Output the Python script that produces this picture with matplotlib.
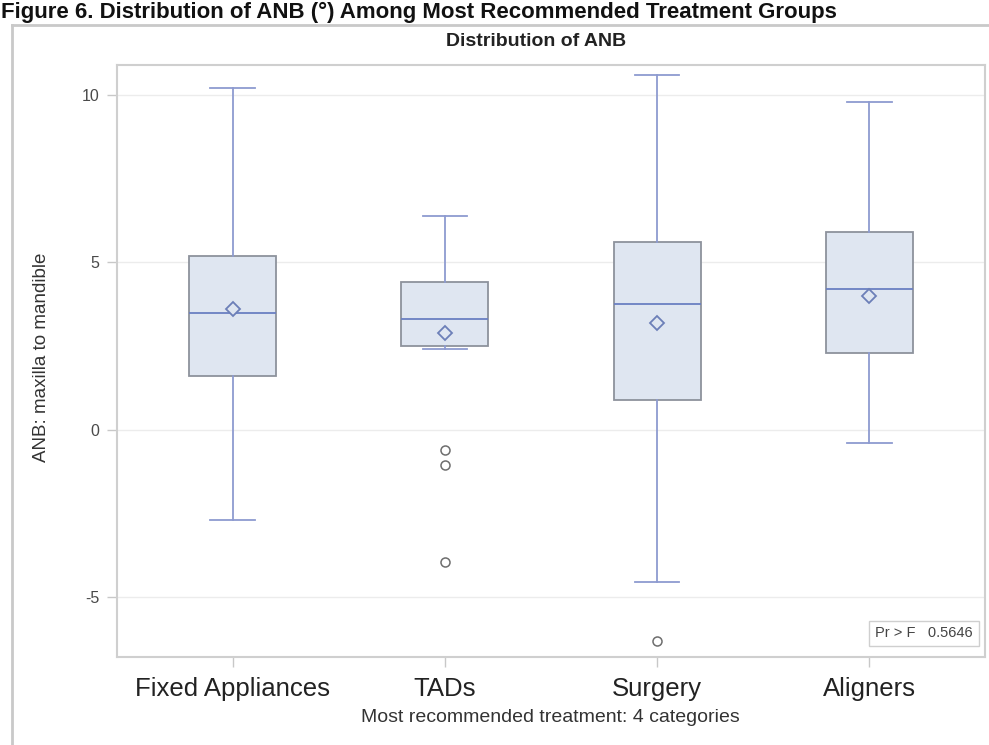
import matplotlib
matplotlib.use("Agg")
import matplotlib.pyplot as plt
from matplotlib.lines import Line2D

plt.rcParams['font.family'] = ['Liberation Sans', 'DejaVu Sans']

# Box-plot summary statistics per treatment group (ANB, degrees)
categories = ["Fixed Appliances", "TADs", "Surgery", "Aligners"]
whisker_low = [-2.7, 2.42, -4.55, -0.4]
q1 = [1.6, 2.5, 0.9, 2.3]
median = [3.5, 3.3, 3.75, 4.2]
mean = [3.6, 2.9, 3.2, 4.0]
q3 = [5.2, 4.43, 5.6, 5.9]
whisker_high = [10.2, 6.4, 10.6, 9.8]
outliers = [[], [-0.6, -1.05, -3.95], [-6.3], []]
y_ticks = [-5, 0, 5, 10]
p_value = 0.5646

W, H = 989, 745
fig = plt.figure(figsize=(W / 100, H / 100), dpi=100)

def px(x, y):
    return x / W, 1 - y / H

# outer frame of the embedded graph
frame_col = "#c9c9c9"
fig.add_artist(Line2D([12 / W, 12 / W], [0, 1 - 25 / H], transform=fig.transFigure,
                      color=frame_col, lw=2))
fig.add_artist(Line2D([12 / W, 1], [1 - 25 / H, 1 - 25 / H], transform=fig.transFigure,
                      color=frame_col, lw=2))

# document caption
fig.text(*px(1, 18), "Figure 6. Distribution of ANB (°) Among Most Recommended Treatment Groups",
         ha="left", va="baseline", fontsize=16, fontweight="bold", color="#111111")

left, right, top, bottom = 117, 985, 65, 657
ax = fig.add_axes([left / W, 1 - bottom / H, (right - left) / W, (bottom - top) / H])

stats = []
for i, name in enumerate(categories):
    stats.append(dict(label=name, whislo=whisker_low[i], q1=q1[i], med=median[i],
                      mean=mean[i], q3=q3[i], whishi=whisker_high[i], fliers=outliers[i]))

positions = list(range(len(categories)))
ax.bxp(stats, positions=positions, widths=0.41, patch_artist=True, showmeans=True,
       capwidths=0.21,
       boxprops=dict(facecolor="#dfe6f1", edgecolor="#8d929c", linewidth=1.3),
       medianprops=dict(color="#6a7fc2", linewidth=1.3),
       whiskerprops=dict(color="#8e9bd0", linewidth=1.3),
       capprops=dict(color="#8e9bd0", linewidth=1.3),
       meanprops=dict(marker="D", markersize=7.5, markerfacecolor="#dfe6f1",
                      markeredgecolor="#6c7fb8", markeredgewidth=1.3),
       flierprops=dict(marker="o", markersize=6.5, markerfacecolor="none",
                       markeredgecolor="#6e6e6e", markeredgewidth=1.1))

ax.set_xlim(-0.545, 3.545)
ax.set_ylim(-6.79, 10.90)
ax.set_yticks(y_ticks)
ax.set_yticklabels([str(t) for t in y_ticks], fontsize=11.5, color="#4a4a4a")
ax.set_xticks(positions)
ax.set_xticklabels(categories, fontsize=18.5, color="#222222")
ax.tick_params(axis="both", color="#c8c8c8", length=7.5, width=1)
ax.tick_params(axis="x", pad=7)
ax.tick_params(axis="y", pad=5)
ax.grid(axis="y", color="#ececec", linewidth=1)
ax.set_axisbelow(True)
for s in ax.spines.values():
    s.set_color("#cfcfcf")
    s.set_linewidth(1.5)

fig.text(*px(550, 718), "Most recommended treatment: 4 categories", ha="center", va="center",
         fontsize=14, color="#333333")
fig.text(*px(42, 357), "ANB: maxilla to mandible", rotation=90, ha="center", va="center",
         fontsize=13.5, color="#333333")
fig.text(*px(536, 42), "Distribution of ANB", ha="center", va="center",
         fontsize=14, fontweight="bold", color="#222222")

# test statistic inset
ax.text(0.986, 0.028, f"Pr > F   {p_value:.4f}", transform=ax.transAxes, ha="right",
        va="bottom", fontsize=10.5, color="#444444",
        bbox=dict(boxstyle="square,pad=0.4", facecolor="white", edgecolor="#cfcfcf",
                  linewidth=1))

fig.savefig("out.png", dpi=100)
